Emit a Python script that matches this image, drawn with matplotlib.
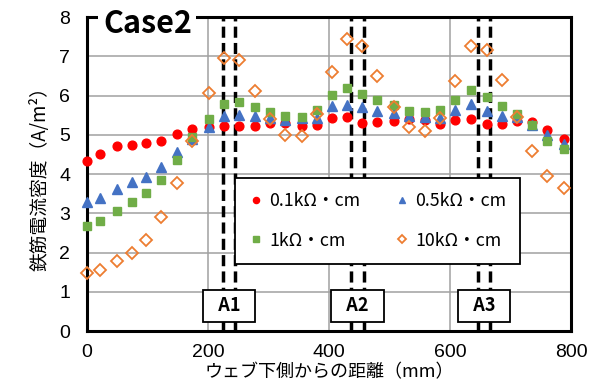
import matplotlib
matplotlib.use('Agg')
import matplotlib.pyplot as plt

plt.rcParams['font.family'] = ['Noto Sans CJK JP', 'DejaVu Sans']

# distance from bottom of web (mm)
dist = [0, 21, 49, 74, 98, 123, 149, 174, 202, 226, 252, 277, 302, 327, 355, 380,
        405, 430, 455, 480, 508, 533, 559, 583, 608, 635, 661, 686, 711, 735, 761, 789]

# rebar current density (A/m2)
r01 = [4.32, 4.50, 4.71, 4.75, 4.79, 4.83, 5.01, 5.15, 5.20, 5.22, 5.22, 5.22, 5.31, 5.31, 5.22, 5.26,
       5.43, 5.44, 5.30, 5.32, 5.36, 5.41, 5.37, 5.28, 5.37, 5.41, 5.27, 5.27, 5.36, 5.32, 5.11, 4.89]
r05 = [3.28, 3.40, 3.63, 3.79, 3.93, 4.19, 4.57, 4.88, 5.21, 5.48, 5.51, 5.48, 5.42, 5.37, 5.42, 5.43,
       5.73, 5.77, 5.71, 5.60, 5.56, 5.49, 5.46, 5.42, 5.62, 5.78, 5.60, 5.48, 5.44, 5.25, 4.99, 4.77]
r1 = [2.68, 2.81, 3.07, 3.29, 3.51, 3.84, 4.35, 4.95, 5.40, 5.79, 5.84, 5.71, 5.57, 5.48, 5.45, 5.63,
      6.01, 6.19, 6.05, 5.88, 5.77, 5.61, 5.58, 5.62, 5.89, 6.14, 5.96, 5.74, 5.54, 5.24, 4.85, 4.63]
r10 = [1.48, 1.56, 1.79, 1.99, 2.33, 2.90, 3.76, 4.85, 6.07, 6.96, 6.91, 6.11, 5.41, 5.00, 4.97, 5.54,
       6.61, 7.44, 7.27, 6.49, 5.71, 5.19, 5.09, 5.43, 6.37, 7.26, 7.16, 6.40, 5.44, 4.58, 3.95, 3.64]

labels = ['0.1kΩ・cm', '0.5kΩ・cm', '1kΩ・cm', '10kΩ・cm']

zone_names = ['A1', 'A2', 'A3']
zone_lines = [(225, 245), (437, 457), (646, 666)]

fig = plt.figure(figsize=(5.94, 3.87), dpi=100)
ax = fig.add_axes([0.1465, 0.1447, 0.8148, 0.8113])

ax.set_xlim(0, 800)
ax.set_ylim(0, 8)
ax.set_xticks([0, 200, 400, 600, 800])
ax.set_yticks(range(0, 9))
ax.grid(True, color='#a0a0a0', linewidth=1.1)
ax.set_axisbelow(True)
for s in ax.spines.values():
    s.set_linewidth(2.2)
    s.set_color('black')
ax.tick_params(length=0, labelsize=14, pad=12)
ax.tick_params(axis='x', pad=9)
for t in ax.get_xticklabels() + ax.get_yticklabels():
    t.set_fontfamily('Liberation Sans')

# dashed zone lines
for z in zone_lines:
    for xv in z:
        ax.axvline(xv, color='black', linewidth=2.5, linestyle=(0, (3.2, 1.5)), zorder=2)

h1, = ax.plot(dist, r01, 'o', color='#ff0000', markersize=6.3, linestyle='none', clip_on=False, zorder=3)
h2, = ax.plot(dist, r05, '^', color='#4472c4', markersize=6.5, linestyle='none', clip_on=False, zorder=3)
h3, = ax.plot(dist, r1, 's', color='#70ad47', markersize=6.0, linestyle='none', clip_on=False, zorder=3)
h4, = ax.plot(dist, r10, 'D', markerfacecolor='none', markeredgecolor='#ed7d31', markeredgewidth=1.3,
              markersize=6.0, linestyle='none', clip_on=False, zorder=3)

for name, z in zip(zone_names, zone_lines):
    ax.text((z[0] + z[1]) / 2, 0.64, '  ' + name + '  ', ha='center', va='center', fontsize=13,
            fontweight='bold', zorder=5,
            bbox=dict(boxstyle='square,pad=0.38', fc='white', ec='black', lw=1.3))

leg = ax.legend([h1, h3, h2, h4], [labels[0], labels[2], labels[1], labels[3]], ncol=2,
                loc='upper left', bbox_to_anchor=(0.306, 0.487), borderaxespad=0,
                fontsize=12.8, markerscale=0.7, handlelength=0.7, handletextpad=0.4,
                columnspacing=2.0, labelspacing=1.2, borderpad=0.8,
                fancybox=False, framealpha=1, edgecolor='black')
leg.get_frame().set_linewidth(1.3)
leg.set_zorder(6)

ax.text(0.033, 0.978, 'Case2', transform=ax.transAxes, ha='left', va='center', fontsize=22,
        fontweight='bold', zorder=7,
        bbox=dict(boxstyle='square,pad=0.15', fc='white', ec='none'))

ax.set_ylabel('鉄筋電流密度（A/m²）', fontsize=13.5, labelpad=6)
ax.set_xlabel('ウェブ下側からの距離（mm）', fontsize=13, labelpad=2)

fig.savefig('out.png', dpi=100)
